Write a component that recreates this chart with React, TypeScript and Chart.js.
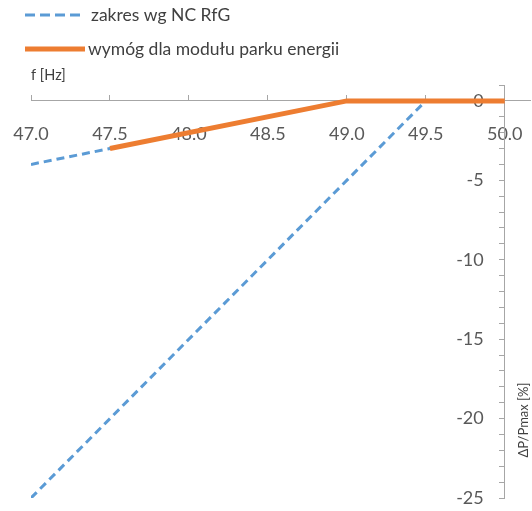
import React, { useEffect, useRef } from 'react';
import { Chart, registerables } from 'chart.js';

Chart.register(...registerables);

// ---- data ----
const freqTicks = [47.0, 47.5, 48.0, 48.5, 49.0, 49.5, 50.0];
const requirementX = [47.5, 49.0, 50.0];
const requirementY = [-3, 0, 0];
const upperRangeX = [47.0, 47.5, 49.0, 50.0];
const upperRangeY = [-4, -3, 0, 0];
const lowerRangeX = [47.0, 49.5];
const lowerRangeY = [-25, 0];
const legendLabels = ['zakres wg NC RfG', 'wymóg dla modułu parku energii'];
const xAxisTitle = 'f [Hz]';
const yAxisTitle = 'ΔP/Pmax [%]';

const BLUE = '#5B9BD5';
const ORANGE = '#ED7D31';
const AXIS = '#A6A6A6';
const TEXT = '#595959';
const FONT = 'Lato, "Open Sans", sans-serif';
const Y_LABEL_GAP = 21;

const zip = (xs: number[], ys: number[]) => xs.map((x, i) => ({ x, y: ys[i] }));

const noPad = (s: any) => {
  s.paddingLeft = 0;
  s.paddingRight = 0;
  s.paddingTop = 0;
  s.paddingBottom = 0;
};

const overlayPlugin = {
  id: 'overlay',
  beforeDraw(chart: any) {
    // move y tick labels to the left of the value-positioned axis line
    const items: any = chart.scales.y.getLabelItems();
    if (items && !items.__shifted) {
      items.forEach((it: any) => {
        if (it.options && it.options.translation) it.options.translation[0] -= Y_LABEL_GAP;
      });
      items.__shifted = true;
    }
  },
  afterDraw(chart: any) {
    const ctx = chart.ctx as CanvasRenderingContext2D;
    ctx.save();
    const rows = [
      { ds: chart.data.datasets[1], x1: 25, x2: 84, y: 15, tx: 91 },
      { ds: chart.data.datasets[0], x1: 25, x2: 85, y: 49, tx: 88 },
    ];
    rows.forEach((r, i) => {
      ctx.beginPath();
      ctx.strokeStyle = r.ds.borderColor;
      ctx.lineWidth = r.ds.borderWidth;
      ctx.setLineDash(r.ds.borderDash ? [10, 5] : []);
      ctx.moveTo(r.x1, r.y);
      ctx.lineTo(r.x2, r.y);
      ctx.stroke();
      ctx.setLineDash([]);
      ctx.fillStyle = '#404040';
      ctx.font = `17.5px ${FONT}`;
      ctx.textBaseline = 'middle';
      ctx.textAlign = 'left';
      ctx.fillText(legendLabels[i], r.tx, r.y);
    });
    ctx.fillStyle = '#404040';
    ctx.font = `14.5px ${FONT}`;
    ctx.textBaseline = 'middle';
    ctx.fillText(xAxisTitle, 31, 75);
    ctx.font = `13px ${FONT}`;
    ctx.translate(524, 420);
    ctx.rotate(-Math.PI / 2);
    ctx.textAlign = 'center';
    ctx.fillText(yAxisTitle, 0, 0);
    ctx.restore();
  },
};

export default function App() {
  const ref = useRef<HTMLCanvasElement | null>(null);
  useEffect(() => {
    if (!ref.current) return;
    const chart = new Chart(ref.current, {
      type: 'line',
      data: {
        datasets: [
          {
            label: legendLabels[1],
            data: zip(requirementX, requirementY),
            borderColor: ORANGE,
            backgroundColor: ORANGE,
            borderWidth: 5,
            pointRadius: 0,
            tension: 0,
          },
          {
            label: legendLabels[0],
            data: zip(upperRangeX, upperRangeY),
            borderColor: BLUE,
            backgroundColor: BLUE,
            borderWidth: 3,
            borderDash: [8, 5],
            pointRadius: 0,
            tension: 0,
          },
          {
            label: legendLabels[0],
            data: zip(lowerRangeX, lowerRangeY),
            borderColor: BLUE,
            backgroundColor: BLUE,
            borderWidth: 3,
            borderDash: [8, 5],
            pointRadius: 0,
            tension: 0,
          },
        ],
      },
      options: {
        animation: false,
        responsive: false,
        layout: { padding: { left: 31, right: 2, top: 85, bottom: 13 } },
        plugins: { legend: { display: false }, tooltip: { enabled: false } },
        scales: {
          x: {
            type: 'linear',
            min: 47,
            max: 50.16,
            position: { y: 0 } as any,
            afterBuildTicks: (s: any) => {
              s.ticks = freqTicks.map((v) => ({ value: v }));
            },
            afterFit: (s: any) => {
              s.height = 0;
              noPad(s);
            },
            grid: { drawOnChartArea: false, drawTicks: true, tickLength: -6, color: AXIS },
            border: { color: AXIS, width: 1 },
            ticks: {
              padding: 29,
              color: TEXT,
              font: { family: FONT, size: 18 },
              callback: (v: any) => Number(v).toFixed(1),
              maxRotation: 0,
            },
          },
          y: {
            type: 'linear',
            min: -25,
            max: 1,
            position: { x: 50 } as any,
            z: 1,
            afterFit: (s: any) => {
              s.width = 0;
              noPad(s);
            },
            grid: { drawOnChartArea: false, drawTicks: true, tickLength: 5, color: AXIS },
            border: { color: AXIS, width: 1 },
            ticks: {
              stepSize: 1,
              color: TEXT,
              font: { family: FONT, size: 18 },
              callback: (v: any) => (Number(v) % 5 === 0 ? String(v) : ''),
              autoSkip: false,
            },
          },
        },
      },
      plugins: [overlayPlugin],
    });
    return () => chart.destroy();
  }, []);
  return (
    <div style={{ position: 'fixed', left: 0, top: 0, width: 532, height: 511, background: '#fff' }}>
      <canvas ref={ref} width={532} height={511} style={{ display: 'block' }} />
    </div>
  );
}
